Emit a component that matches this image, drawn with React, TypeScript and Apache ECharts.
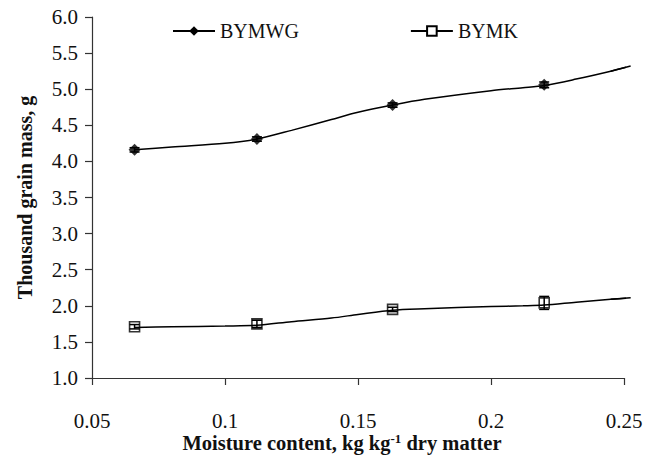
import React, { useEffect, useRef } from "react";
import * as echarts from "echarts";

// Measured points (moisture content, kg/kg d.m.) with thousand grain mass and std. error
const moisture = [0.066, 0.112, 0.163, 0.22];
const bymwgMass = [4.16, 4.31, 4.78, 5.06];
const bymwgErr = [0.03, 0.03, 0.03, 0.04];
const bymkMass = [1.71, 1.75, 1.95, 2.04];
const bymkErr = [0.03, 0.05, 0.03, 0.09];

// Smoothed trend curves
const trendX = [0.066, 0.08, 0.1, 0.112, 0.125, 0.14, 0.15, 0.163, 0.175, 0.2, 0.212, 0.22, 0.232, 0.245, 0.2525];
const bymwgTrend = [4.16, 4.2, 4.25, 4.31, 4.43, 4.58, 4.68, 4.78, 4.86, 4.98, 5.02, 5.05, 5.14, 5.25, 5.32];
const bymkTrend = [1.7, 1.71, 1.72, 1.73, 1.78, 1.83, 1.88, 1.94, 1.96, 1.99, 2.0, 2.01, 2.05, 2.09, 2.11];

const xTickLabels = ["0.05", "0.1", "0.15", "0.2", "0.25"];

const FONT = "Liberation Serif";

const pairs = (xs: number[], ys: number[]) => xs.map((x, i) => [x, ys[i]]);

function errorBarSeries(name: string, ys: number[], errs: number[]) {
  return {
    name,
    type: "custom",
    z: 3,
    data: moisture.map((x, i) => [x, ys[i], errs[i]]),
    renderItem: (params: any, api: any) => {
      const x = api.value(0);
      const y = api.value(1);
      const e = api.value(2);
      const hi = api.coord([x, y + e]);
      const lo = api.coord([x, y - e]);
      const w = 5;
      const style = { stroke: "#000", lineWidth: 1.5 };
      return {
        type: "group",
        children: [
          { type: "line", shape: { x1: hi[0], y1: hi[1], x2: lo[0], y2: lo[1] }, style },
          { type: "line", shape: { x1: hi[0] - w, y1: hi[1], x2: hi[0] + w, y2: hi[1] }, style },
          { type: "line", shape: { x1: lo[0] - w, y1: lo[1], x2: lo[0] + w, y2: lo[1] }, style },
        ],
      };
    },
  };
}

// The trend curve runs a little past the last x tick; the line series is clipped
// at the axis end, so the last segment is drawn unclipped by a custom series.
function tailSeries(name: string, ys: number[]) {
  const n = trendX.length;
  return {
    name,
    type: "custom",
    clip: false,
    z: 2,
    data: [[trendX[n - 2], ys[n - 2], trendX[n - 1], ys[n - 1]]],
    renderItem: (params: any, api: any) => {
      const a = api.coord([api.value(0), api.value(1)]);
      const b = api.coord([api.value(2), api.value(3)]);
      return {
        type: "line",
        shape: { x1: a[0], y1: a[1], x2: b[0], y2: b[1] },
        style: { stroke: "#000", lineWidth: 1.5 },
      };
    },
  };
}

export default function App() {
  const ref = useRef<HTMLDivElement>(null);

  useEffect(() => {
    if (!ref.current) return;
    document.body.style.margin = "0";
    const chart = echarts.init(ref.current, null, { renderer: "svg" });
    chart.setOption({
      animation: false,
      backgroundColor: "#fff",
      textStyle: { fontFamily: FONT },
      grid: { left: 92, right: 27, top: 17, bottom: 78, containLabel: false, outerBoundsMode: "none" },
      legend: {
        data: ["BYMWG", "BYMK"],
        left: 167,
        top: 16,
        itemWidth: 42,
        itemHeight: 12,
        itemGap: 111,
        textStyle: { fontFamily: FONT, fontSize: 20, color: "#111" },
      },
      xAxis: {
        type: "value",
        min: 0.05,
        max: 0.25,
        interval: 0.05,
        splitLine: { show: false },
        axisLine: { lineStyle: { color: "#333", width: 1.2 } },
        axisTick: { inside: false, length: 7, lineStyle: { color: "#333", width: 1.2 } },
        axisLabel: {
          margin: 32,
          fontFamily: FONT,
          fontSize: 21,
          color: "#111",
          formatter: (v: number) => {
            const i = Math.round((v - 0.05) / 0.05);
            return xTickLabels[i] ?? String(v);
          },
        },
        name: "Moisture content, kg kg{sup|-1} dry matter",
        nameLocation: "middle",
        nameGap: 54,
        nameMoveOverlap: false,
        nameTextStyle: {
          fontFamily: FONT,
          fontSize: 20.5,
          fontWeight: "bold",
          color: "#111",
          padding: [0, 32, 0, 0],
          rich: {
            sup: {
              fontFamily: FONT,
              fontSize: 13,
              fontWeight: "bold",
              color: "#111",
              verticalAlign: "top",
              padding: [0, 0, 7, 0],
            },
          },
        },
      },
      yAxis: {
        type: "value",
        min: 1,
        max: 6,
        interval: 0.5,
        splitLine: { show: false },
        axisLine: { show: true, lineStyle: { color: "#333", width: 1.2 } },
        axisTick: { show: true, inside: false, length: 7, lineStyle: { color: "#333", width: 1.2 } },
        axisLabel: {
          margin: 14,
          fontFamily: FONT,
          fontSize: 21,
          color: "#111",
          formatter: (v: number) => v.toFixed(1),
        },
        name: "Thousand grain mass, g",
        nameLocation: "middle",
        nameGap: 57,
        nameMoveOverlap: false,
        nameTextStyle: { fontFamily: FONT, fontSize: 20, fontWeight: "bold", color: "#111" },
      },
      series: [
        {
          name: "BYMWG",
          type: "line",
          smooth: 0.3,
          symbol: "diamond",
          symbolSize: 11,
          showSymbol: false,
          color: "#000",
          itemStyle: { color: "#000" },
          lineStyle: { color: "#000", width: 1.5 },
          data: pairs(trendX, bymwgTrend),
          z: 2,
        },
        {
          name: "BYMK",
          type: "line",
          smooth: 0.3,
          symbol: "rect",
          symbolSize: 10,
          showSymbol: false,
          color: "#000",
          itemStyle: { color: "#fff", borderColor: "#000", borderWidth: 1.5 },
          lineStyle: { color: "#000", width: 1.5 },
          data: pairs(trendX, bymkTrend),
          z: 2,
        },
        tailSeries("BYMWG tail", bymwgTrend),
        tailSeries("BYMK tail", bymkTrend),
        errorBarSeries("BYMWG error", bymwgMass, bymwgErr),
        errorBarSeries("BYMK error", bymkMass, bymkErr),
        {
          name: "BYMWG points",
          type: "scatter",
          symbol: "diamond",
          symbolSize: 12,
          itemStyle: { color: "#000" },
          data: pairs(moisture, bymwgMass),
          z: 4,
        },
        {
          name: "BYMK points",
          type: "scatter",
          symbol: "rect",
          symbolSize: 10,
          itemStyle: { color: "rgba(0,0,0,0)", borderColor: "#000", borderWidth: 1.6 },
          data: pairs(moisture, bymkMass),
          z: 4,
        },
      ],
    });
    return () => chart.dispose();
  }, []);

  return <div ref={ref} style={{ width: 651, height: 456 }} />;
}
